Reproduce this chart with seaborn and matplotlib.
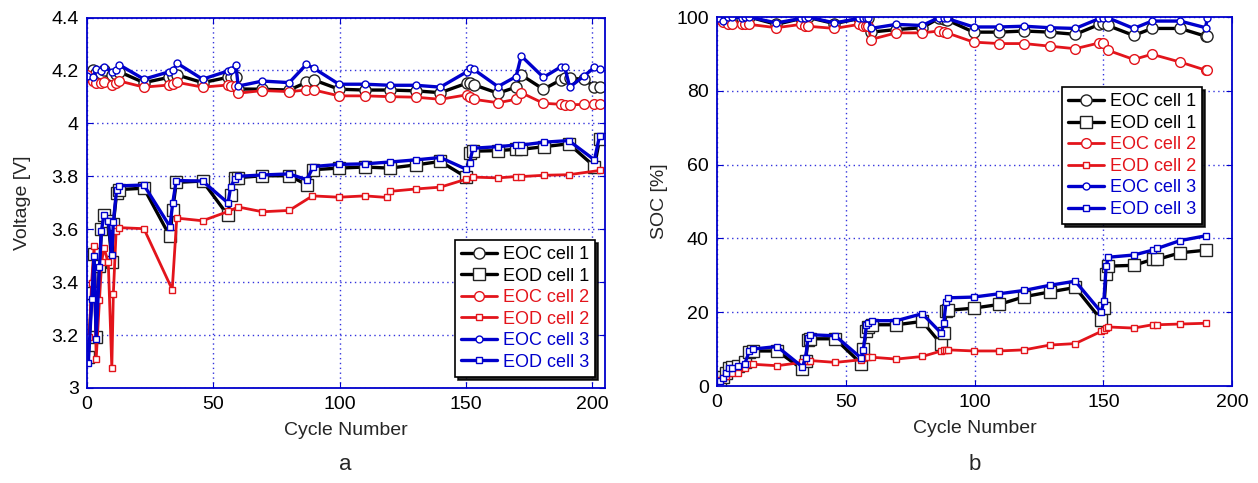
import numpy as np
import pandas as pd
import matplotlib
matplotlib.use("Agg")
import matplotlib.pyplot as plt
import seaborn as sns

# ---------------- data: panel a (Voltage) ----------------
cyc_a_eoc = [0, 2.5, 3.6, 5.4, 6.7, 9.8, 11.5, 12.8, 22.5, 32.5, 33.9, 35.7, 45.7,
             55.8, 56.8, 58.9, 59.8, 69.4, 80, 86.8, 89.8, 99.7, 110, 119.8, 130,
             139.8, 150.3, 151.6, 153, 162.6, 169.8, 171.8, 180.6, 187.6, 189, 191,
             196.8, 200.8, 203]
v_eoc_c1 = [4.18, 4.20, 4.19, 4.19, 4.20, 4.183, 4.185, 4.195, 4.154, 4.174, 4.18,
            4.183, 4.154, 4.174, 4.175, 4.177, 4.13, 4.129, 4.126, 4.155, 4.164,
            4.129, 4.126, 4.126, 4.123, 4.116, 4.152, 4.152, 4.146, 4.114, 4.137,
            4.183, 4.129, 4.165, 4.173, 4.17, 4.167, 4.137, 4.137]
v_eoc_c2 = [4.183, 4.16, 4.152, 4.152, 4.155, 4.145, 4.152, 4.16, 4.137, 4.145,
            4.15, 4.155, 4.137, 4.145, 4.142, 4.14, 4.114, 4.124, 4.12, 4.126,
            4.126, 4.104, 4.104, 4.101, 4.099, 4.091, 4.108, 4.101, 4.091, 4.078,
            4.091, 4.116, 4.076, 4.072, 4.071, 4.07, 4.072, 4.074, 4.074]
v_eoc_c3 = [4.18, 4.177, 4.204, 4.198, 4.214, 4.195, 4.202, 4.221, 4.167, 4.195,
            4.20, 4.227, 4.167, 4.198, 4.20, 4.221, 4.141, 4.16, 4.154, 4.223,
            4.208, 4.148, 4.148, 4.144, 4.144, 4.137, 4.195, 4.208, 4.204, 4.139,
            4.177, 4.255, 4.174, 4.214, 4.214, 4.137, 4.18, 4.212, 4.206]

cyc_a_eod = [0.5, 1.9, 2.8, 3.6, 4.9, 5.7, 6.7, 8.4, 9.8, 10.4, 11.7, 12.8, 22.5,
             32.8, 33.9, 35.3, 45.7, 55.8, 56.8, 58.5, 59.8, 69.4, 80, 87, 89.5,
             99.7, 109.9, 119.8, 130, 139.8, 150, 151.4, 152.7, 162.6, 169.6, 171.8,
             181, 190.6, 200.8, 202.8]
v_eod_c1 = [3.118, 3.359, 3.508, 3.193, 3.46, 3.60, 3.655, 3.63, 3.478, 3.62, 3.737,
            3.75, 3.755, 3.573, 3.674, 3.777, 3.782, 3.652, 3.73, 3.793, 3.795,
            3.802, 3.802, 3.768, 3.825, 3.831, 3.835, 3.831, 3.843, 3.856, 3.797,
            3.888, 3.895, 3.897, 3.902, 3.902, 3.912, 3.923, 3.837, 3.94]
v_eod_c3 = [3.095, 3.338, 3.50, 3.186, 3.457, 3.595, 3.655, 3.632, 3.504, 3.626,
            3.75, 3.764, 3.767, 3.61, 3.699, 3.784, 3.782, 3.699, 3.759, 3.79, 3.80,
            3.805, 3.809, 3.787, 3.837, 3.845, 3.847, 3.854, 3.862, 3.871, 3.827,
            3.852, 3.906, 3.912, 3.918, 3.918, 3.929, 3.935, 3.862, 3.953]
cyc_a_eod_c2 = [0.9, 1.8, 2.8, 3.6, 4.9, 5.8, 6.7, 8.4, 9.8, 10.4, 11.5, 12.8, 22.5,
                33.7, 35.5, 45.7, 55.8, 59.8, 69.4, 80, 89.2, 99.7, 110, 118.8,
                119.8, 130, 139.8, 150, 152.7, 162.6, 169.6, 171.8, 181, 190.6, 202.8]
v_eod_c2 = [3.193, 3.397, 3.535, 3.108, 3.331, 3.478, 3.529, 3.475, 3.076, 3.355,
            3.592, 3.606, 3.602, 3.372, 3.642, 3.632, 3.667, 3.684, 3.666, 3.671,
            3.726, 3.721, 3.726, 3.72, 3.743, 3.752, 3.759, 3.789, 3.797, 3.794,
            3.799, 3.799, 3.804, 3.806, 3.822]

# ---------------- data: panel b (SOC) ----------------
cyc_b_eoc = [0.5, 2.4, 4.4, 5.7, 9.5, 10.8, 12.5, 23, 32.7, 34, 35.3, 45.6, 55.2,
             56.5, 57.8, 58.8, 59.7, 69.6, 79.6, 86.1, 88, 89.3, 99.6, 109.5, 119.3,
             129.2, 139.1, 148.5, 149.8, 151.7, 161.8, 168.9, 179.8, 189.7, 190.4]
soc_eoc_c1 = [99.8, 99.8, 100, 100, 99.8, 100, 100, 98.0, 99.6, 99.8, 99.9, 98.2,
              99.6, 99.6, 99.8, 99.7, 95.9, 96.6, 97.1, 99.6, 99.4, 99.2, 95.9, 95.9,
              96.2, 95.9, 95.3, 98.0, 98.4, 97.7, 95.0, 96.9, 96.9, 94.8, 94.8]
soc_eoc_c2 = [99.8, 98.6, 98.0, 98.0, 98.0, 98.0, 98.0, 97.1, 98.0, 97.5, 97.5, 96.9,
              98.0, 97.5, 97.5, 97.5, 93.9, 95.7, 95.7, 96.2, 96.0, 95.7, 93.2, 92.8,
              92.8, 92.1, 91.4, 93.0, 93.0, 91.0, 88.5, 89.9, 87.8, 85.6, 85.6]
soc_eoc_c3 = [99.6, 98.9, 100, 100, 99.8, 100, 100, 98.4, 99.6, 99.8, 100, 98.4,
              99.6, 99.8, 99.8, 99.8, 96.9, 98.0, 97.7, 99.8, 99.8, 99.6, 97.3, 97.3,
              97.5, 97.1, 96.9, 99.6, 99.8, 99.8, 96.9, 98.9, 98.9, 97.1, 99.8]

cyc_b_eod = [1.2, 2.4, 3.6, 4.8, 5.7, 8.2, 10.8, 12.5, 13.8, 23.3, 33.1, 34.4, 35.3,
             36.2, 45.9, 55.9, 56.8, 58, 58.8, 60.1, 69.6, 79.7, 87.1, 88, 88.9,
             89.7, 99.6, 109.5, 119.3, 129.2, 139.1, 149.2, 150.2, 151.1, 152,
             161.8, 169.1, 171, 179.8, 189.7]
soc_eod_c1 = [0.9, 2.5, 3.4, 4.8, 5.2, 5.5, 6.4, 9.1, 9.5, 9.5, 4.6, 6.9, 12.5, 12.8,
              12.8, 6.1, 10.0, 15.0, 15.9, 16.6, 16.6, 17.5, 11.3, 14.5, 20.2, 20.5,
              21.1, 22.1, 24.2, 25.5, 26.7, 17.9, 21.2, 30.3, 32.5, 32.7, 34.3, 34.3,
              36.1, 36.8]
soc_eod_c2 = [1.6, 2.3, 2.7, 3.6, 3.6, 3.6, 5.0, 5.9, 5.9, 5.5, 6.4, 6.9, 6.9, 6.9,
              6.4, 7.1, 7.5, 7.8, 7.8, 7.8, 7.3, 8.0, 9.5, 9.8, 9.8, 9.8, 9.5, 9.5,
              9.8, 11.1, 11.5, 14.8, 15.2, 15.6, 16.0, 15.7, 16.6, 16.6, 16.8, 17.0]
soc_eod_c3 = [1.4, 2.3, 3.5, 4.8, 4.8, 5.5, 6.1, 9.4, 10.0, 10.7, 5.2, 7.6, 13.0, 13.9,
              13.6, 7.6, 9.8, 16.4, 17.0, 17.7, 17.7, 19.6, 14.3, 17.0, 22.7, 23.9,
              24.1, 25.0, 25.9, 27.3, 28.4, 20.0, 23.0, 32.5, 34.9, 35.5, 36.8, 37.3,
              39.4, 40.7]

labels = ["EOC cell 1", "EOD cell 1", "EOC cell 2", "EOD cell 2", "EOC cell 3", "EOD cell 3"]

# ---------------- styling ----------------
sns.set_style("ticks")
plt.rcParams["font.family"] = ["Liberation Sans", "DejaVu Sans"]

BLACK = "#000000"
RED = "#e3141b"
BLUE = "#0000cc"
GRIDC = "#3333dd"

styles = {
    "EOC cell 1": dict(color=BLACK, marker="o", ms=8.0, lw=2.4, mec="#222222"),
    "EOD cell 1": dict(color=BLACK, marker="s", ms=8.5, lw=2.4, mec="#222222"),
    "EOC cell 2": dict(color=RED, marker="o", ms=7.0, lw=2.0, mec=RED),
    "EOD cell 2": dict(color=RED, marker="s", ms=4.5, lw=2.0, mec=RED),
    "EOC cell 3": dict(color=BLUE, marker="o", ms=5.0, lw=2.4, mec=BLUE),
    "EOD cell 3": dict(color=BLUE, marker="s", ms=5.0, lw=2.4, mec=BLUE),
}


def draw(ax, x, y, label):
    st = styles[label]
    df = pd.DataFrame({"cycle": x, "val": y})
    sns.lineplot(data=df, x="cycle", y="val", ax=ax, sort=False, estimator=None,
                 color=st["color"], linewidth=st["lw"], marker=st["marker"],
                 markersize=st["ms"], markerfacecolor="white",
                 markeredgecolor=st["mec"], markeredgewidth=1.0, label=label)


def style_axes(ax):
    for sp in ax.spines.values():
        sp.set_color(BLUE)
        sp.set_linewidth(1.3)
    ax.tick_params(direction="in", colors=BLUE, labelcolor="black", labelsize=14,
                   top=True, right=True, length=4, pad=6)
    ax.grid(True, color=GRIDC, linestyle=(0, (1, 2.5)), linewidth=1.0)
    ax.set_axisbelow(True)


def make_legend(ax, anchor):
    handles, labs = ax.get_legend_handles_labels()
    order = [labs.index(l) for l in labels]
    leg = ax.legend([handles[i] for i in order], [labs[i] for i in order],
                    loc="upper right", bbox_to_anchor=anchor, fontsize=13,
                    frameon=True, fancybox=False,
                    shadow={"color": "black", "alpha": 0.85},
                    handlelength=2.0, labelspacing=0.25, borderpad=0.35,
                    handletextpad=0.3, borderaxespad=0.0, framealpha=1.0)
    leg.get_frame().set_edgecolor("black")
    leg.get_frame().set_linewidth(1.2)
    for t, l in zip(leg.get_texts(), labels):
        t.set_color(styles[l]["color"])
    return leg


fig = plt.figure(figsize=(12.58, 4.83), dpi=100)
ax1 = fig.add_axes([0.0692, 0.1967, 0.4118, 0.767])
ax2 = fig.add_axes([0.570, 0.2008, 0.4094, 0.764])

# panel a
draw(ax1, cyc_a_eoc, v_eoc_c1, "EOC cell 1")
draw(ax1, cyc_a_eod, v_eod_c1, "EOD cell 1")
draw(ax1, cyc_a_eoc, v_eoc_c2, "EOC cell 2")
draw(ax1, cyc_a_eod_c2, v_eod_c2, "EOD cell 2")
draw(ax1, cyc_a_eoc, v_eoc_c3, "EOC cell 3")
draw(ax1, cyc_a_eod, v_eod_c3, "EOD cell 3")
ax1.set_xlim(0, 205)
ax1.set_ylim(3, 4.4)
ax1.set_xticks([0, 50, 100, 150, 200])
ax1.set_yticks([3, 3.2, 3.4, 3.6, 3.8, 4, 4.2, 4.4])
ax1.set_yticklabels(["3", "3.2", "3.4", "3.6", "3.8", "4", "4.2", "4.4"])
ax1.set_xlabel("Cycle Number", fontsize=14, labelpad=6)
ax1.set_ylabel("Voltage [V]", fontsize=14, labelpad=15)
style_axes(ax1)
make_legend(ax1, (0.981, 0.40))

# panel b
draw(ax2, cyc_b_eoc, soc_eoc_c1, "EOC cell 1")
draw(ax2, cyc_b_eod, soc_eod_c1, "EOD cell 1")
draw(ax2, cyc_b_eoc, soc_eoc_c2, "EOC cell 2")
draw(ax2, cyc_b_eod, soc_eod_c2, "EOD cell 2")
draw(ax2, cyc_b_eoc, soc_eoc_c3, "EOC cell 3")
draw(ax2, cyc_b_eod, soc_eod_c3, "EOD cell 3")
ax2.set_xlim(0, 200)
ax2.set_ylim(0, 100)
ax2.set_xticks([0, 50, 100, 150, 200])
ax2.set_yticks([0, 20, 40, 60, 80, 100])
ax2.set_xlabel("Cycle Number", fontsize=14, labelpad=6)
ax2.set_ylabel("SOC [%]", fontsize=14, labelpad=6)
style_axes(ax2)
make_legend(ax2, (0.942, 0.81))

fig.text(345 / 1258, 1 - 465 / 483, "a", fontsize=16, ha="center", va="center")
fig.text(975 / 1258, 1 - 465 / 483, "b", fontsize=16, ha="center", va="center")

fig.savefig("out.png", dpi=100)
